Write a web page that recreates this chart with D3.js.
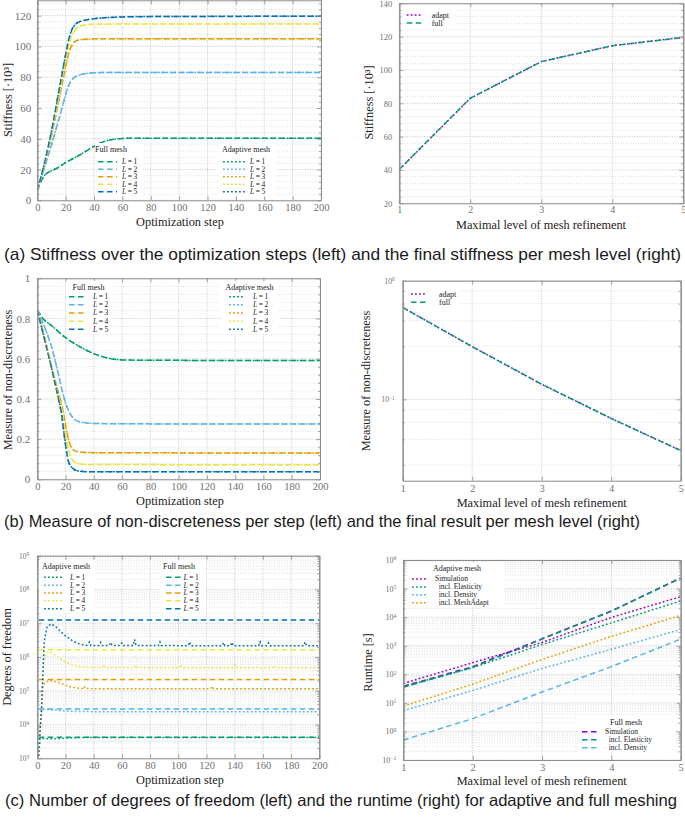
<!DOCTYPE html>
<html><head><meta charset="utf-8">
<script src="https://cdn.jsdelivr.net/npm/d3@7"></script>
<style>
body{margin:0;background:#fff}
svg text{font-family:"Liberation Serif","Times New Roman",serif}
</style></head><body>
<svg id="c" width="685" height="818"></svg>
<script>
// ---------------- DATA ----------------
const levelLabels = ["1","2","3","4","5"];
const meshLevels = [1,2,3,4,5];

// (a) stiffness [·10^3] over optimization steps: [step, value]
const stiffFull = [
  [[0,6.5],[3,13],[6,17],[9,18.7],[12,20],[16,22],[20,24.5],[25,27],[32,30.5],[38,34],[44,37],[50,39],[55,39.8],[63,40.3],[80,40.4],[200,40.4]],
  [[0,6.5],[5,21],[10,36],[15,52],[18,62],[20,69],[22,74.5],[25,79],[30,81.5],[35,82.5],[45,83],[200,83]],
  [[0,6.5],[5,23],[10,42],[15,64],[18,78],[20,87],[22,95],[24,100],[27,103.5],[32,104.6],[45,105],[200,105]],
  [[0,6.5],[5,23],[10,43],[15,67],[18,82],[20,92],[22,100],[24,106],[27,111],[31,113.5],[40,114.5],[200,114.6]],
  [[0,6.5],[5,24],[10,45],[15,70],[18,85],[20,95],[22,104],[24,110],[27,114.5],[31,116.5],[40,118],[55,119],[80,119.4],[200,119.6]]
];
const stiffAdapt = [
  [[0,6.5],[3,13.2],[6,17.2],[9,18.8],[12,20.1],[16,22.1],[20,24.6],[25,27.1],[32,30.6],[38,34.1],[44,37.1],[50,39],[55,39.8],[63,40.3],[80,40.3],[200,40.3]],
  [[0,6.5],[5,21],[10,36.2],[15,52.2],[18,62],[20,69],[22,74.5],[25,79],[30,81.5],[35,82.5],[45,83],[200,83]],
  [[0,6.5],[5,23],[10,42],[15,64],[18,78],[20,87],[22,95],[24,100],[27,103.5],[32,104.6],[45,105],[200,105]],
  [[0,6.5],[5,23],[10,43],[15,67],[18,82],[20,92],[22,100],[24,106],[27,111],[31,113.5],[40,114.5],[200,114.6]],
  [[0,6.5],[5,24],[10,45],[15,70],[18,85],[20,95],[22,104],[24,110],[27,114.5],[31,116.5],[40,118],[55,119],[80,119.5],[200,119.6]]
];
const finalStiffAdapt = [40.3, 83, 105, 114.6, 119.6];
const finalStiffFull  = [40.4, 83.1, 105, 114.5, 119.5];

// (b) measure of non-discreteness over steps
const ndFull = [
  [[0,0.842],[4,0.80],[10,0.765],[20,0.705],[30,0.66],[40,0.625],[50,0.603],[60,0.594],[80,0.592],[200,0.591]],
  [[0,0.842],[5,0.76],[10,0.66],[15,0.52],[18,0.43],[20,0.38],[23,0.33],[26,0.30],[30,0.286],[40,0.278],[60,0.276],[200,0.275]],
  [[0,0.842],[5,0.71],[10,0.565],[15,0.43],[17,0.38],[20,0.27],[22,0.20],[24,0.16],[27,0.14],[32,0.134],[45,0.132],[200,0.131]],
  [[0,0.842],[5,0.705],[10,0.56],[15,0.41],[17,0.36],[20,0.23],[22,0.15],[25,0.095],[28,0.08],[35,0.074],[200,0.072]],
  [[0,0.842],[5,0.70],[10,0.555],[15,0.40],[17,0.33],[20,0.17],[22,0.09],[25,0.055],[28,0.043],[35,0.038],[200,0.037]]
];
const ndAdapt = [
  [[0,0.842],[4,0.80],[10,0.765],[20,0.705],[30,0.66],[40,0.625],[50,0.603],[60,0.594],[80,0.592],[200,0.591]],
  [[0,0.842],[5,0.76],[10,0.66],[15,0.52],[18,0.43],[20,0.38],[23,0.33],[26,0.30],[30,0.286],[40,0.278],[60,0.276],[200,0.275]],
  [[0,0.842],[5,0.71],[10,0.565],[15,0.43],[17,0.38],[20,0.27],[22,0.20],[24,0.16],[27,0.14],[32,0.134],[45,0.132],[200,0.131]],
  [[0,0.842],[5,0.705],[10,0.56],[15,0.41],[17,0.36],[20,0.23],[22,0.15],[25,0.095],[28,0.08],[35,0.074],[200,0.072]],
  [[0,0.842],[5,0.70],[10,0.555],[15,0.40],[17,0.33],[20,0.17],[22,0.09],[25,0.055],[28,0.043],[35,0.038],[200,0.037]]
];
const finalNdAdapt = [0.595, 0.278, 0.134, 0.069, 0.037];
const finalNdFull  = [0.595, 0.278, 0.134, 0.069, 0.037];

// (c) degrees of freedom over steps
const dofFull = [4200, 29000, 215000, 1650000, 12500000];
const dofAdapt = [
  [[0,300],[1,1200],[2,3900],[6,3800],[15,3800],[22,4000],[30,4100],[200,4150]],
  [[0,300],[1,1500],[3,28000],[8,28000],[15,26000],[25,24500],[40,24000],[200,24000]],
  [[0,300],[1,1500],[3,25000],[4,150000],[7,190000],[11,200000],[16,170000],[22,135000],[28,120000],[32,117000],[33,135000],[34,116000],[50,115000],[123,115000],[124,135000],[125,115000],[200,115000]],
  [[0,300],[1,1500],[3,30000],[4,300000],[5,1000000],[8,1450000],[12,1200000],[16,900000],[20,700000],[25,580000],[30,520000],[40,490000],[46,490000],[47,600000],[48,490000],[69,485000],[70,580000],[71,485000],[101,480000],[102,600000],[103,480000],[139,480000],[140,580000],[141,480000],[167,480000],[168,560000],[169,480000],[200,480000]],
  [[0,300],[1,1500],[3,30000],[4,400000],[5,3000000],[7,8000000],[10,9500000],[13,8000000],[16,6000000],[20,4200000],[25,3000000],[30,2400000],[35,2200000],[37,2800000],[38,2200000],[44,2200000],[45,2700000],[46,2200000],[51,2200000],[52,2700000],[53,2200000],[59,2200000],[60,2600000],[61,2200000],[68,2200000],[69,3300000],[70,2200000],[86,2200000],[87,2800000],[88,2200000],[107,2150000],[108,2800000],[109,2150000],[131,2150000],[132,2700000],[133,2150000],[137,2150000],[138,2700000],[139,2150000],[157,2150000],[158,2800000],[159,2150000],[163,2150000],[164,2600000],[165,2150000],[189,2150000],[190,2800000],[191,2150000],[200,2150000]]
];

// (c) runtime [s] per mesh level
const rtAdaptSim   = [48, 255, 1300, 9800, 52000];
const rtAdaptElast = [37, 170, 1100, 6300, 37000];
const rtAdaptDens  = [5.3, 27, 160, 750, 3700];
const rtAdaptMesh  = [7.7, 45, 330, 2100, 11500];
const rtFullSim    = [38, 185, 1750, 16500, 235000];
const rtFullElast  = [35, 175, 1700, 16000, 230000];
const rtFullDens   = [0.5, 2.8, 24, 185, 1700];

const captions = [
  "(a) Stiffness over the optimization steps (left) and the final stiffness per mesh level (right)",
  "(b) Measure of non-discreteness per step (left) and the final result per mesh level (right)",
  "(c) Number of degrees of freedom (left) and the runtime (right) for adaptive and full meshing"
];

// ---------------- STYLE ----------------
const COL = {g:"#009E73", s:"#56B4E9", o:"#E69F00", y:"#F0E442", b:"#0072B2", p:"#9400D3"};
const levelColors = [COL.g, COL.s, COL.o, COL.y, COL.b];
const DASH = "5.5,3.5", DOT = "1.8,2.2";
const FRAME = "#8c8c8c", TICKTXT = "#707070", TITLE = "#222";
const svg = d3.select("#c");
let clipN = 0;

function range(a, b, s){ const r=[]; for(let v=a; v<=b+1e-9; v+=s) r.push(+v.toFixed(6)); return r; }
function logMinor(k0, k1){ const r=[]; for(let k=k0;k<k1;k++) for(let m=2;m<=9;m++) r.push(m*Math.pow(10,k)); return r; }

function panel(p){
  const x = d3.scaleLinear().domain(p.xd).range([p.L, p.R]);
  const y = (p.log ? d3.scaleLog() : d3.scaleLinear()).domain(p.yd).range([p.B, p.T]);
  const g = svg.append("g");
  g.append("g").selectAll("line").data(p.yMinor).join("line")
    .attr("x1", p.L).attr("x2", p.R).attr("y1", d=>y(d)).attr("y2", d=>y(d))
    .attr("stroke", "#d2d2d2").attr("stroke-width", 0.7).attr("stroke-dasharray", "1,1.6");
  g.append("g").selectAll("line").data(p.yTicks).join("line")
    .attr("x1", p.L).attr("x2", p.R).attr("y1", d=>y(d)).attr("y2", d=>y(d))
    .attr("stroke", "#b8b8b8").attr("stroke-width", 0.8).attr("stroke-dasharray", "1,1.5");
  g.append("g").selectAll("line").data(p.xTicks).join("line")
    .attr("y1", p.T).attr("y2", p.B).attr("x1", d=>x(d)).attr("x2", d=>x(d))
    .attr("stroke", "#b8b8b8").attr("stroke-width", 0.8).attr("stroke-dasharray", "1,1.5");
  const id = "clp" + (clipN++);
  svg.append("clipPath").attr("id", id).append("rect")
    .attr("x", p.L).attr("y", p.T).attr("width", p.R - p.L).attr("height", p.B - p.T);
  const lg = g.append("g").attr("clip-path", `url(#${id})`);
  p.series.forEach(s => {
    lg.append("path").datum(s.data)
      .attr("d", d3.line().x(d=>x(d[0])).y(d=>y(d[1])).curve(s.curve || d3.curveLinear))
      .attr("fill", "none").attr("stroke", s.color).attr("stroke-width", 1.5)
      .attr("stroke-dasharray", s.dash);
  });
  const styleAx = sel => {
    sel.selectAll(".domain").attr("stroke", FRAME).attr("stroke-width", 1);
    sel.selectAll(".tick line").attr("stroke", FRAME).attr("stroke-width", 0.8);
    sel.selectAll(".tick text").attr("fill", TICKTXT).attr("font-family", "Liberation Serif, serif");
  };
  const gb = g.append("g").attr("transform", `translate(0,${p.B})`)
    .call(d3.axisBottom(x).tickValues(p.xTicks).tickSizeInner(-4).tickSizeOuter(0).tickPadding(p.xPad).tickFormat(d3.format("d")));
  gb.selectAll(".tick text").attr("font-size", p.xFs);
  styleAx(gb);
  styleAx(g.append("g").attr("transform", `translate(0,${p.T})`)
    .call(d3.axisTop(x).tickValues(p.xTicks).tickSizeInner(-4).tickSizeOuter(0).tickFormat("")));
  const gl = g.append("g").attr("transform", `translate(${p.L},0)`)
    .call(d3.axisLeft(y).tickValues(p.yTicks).tickSizeInner(-4).tickSizeOuter(0).tickPadding(p.yPad)
      .tickFormat(p.log ? (()=> "10") : p.yFmt));
  gl.selectAll(".tick text").attr("font-size", p.yFs);
  if (p.log) {
    gl.selectAll(".tick text").append("tspan").attr("dy", "-0.45em").attr("font-size", "0.72em")
      .text(d => { const e = Math.round(Math.log10(d)); return e < 0 ? "\u2212" + (-e) : e; });
  }
  styleAx(gl);
  styleAx(g.append("g").attr("transform", `translate(${p.R},0)`)
    .call(d3.axisRight(y).tickValues(p.yTicks).tickSizeInner(-4).tickSizeOuter(0).tickFormat("")));
  styleAx(g.append("g").attr("transform", `translate(${p.L},0)`)
    .call(d3.axisLeft(y).tickValues(p.yMinor).tickSizeInner(-2).tickSizeOuter(0).tickFormat("")));
  styleAx(g.append("g").attr("transform", `translate(${p.R},0)`)
    .call(d3.axisRight(y).tickValues(p.yMinor).tickSizeInner(-2).tickSizeOuter(0).tickFormat("")));
  g.selectAll(".domain").raise();
  g.append("text").attr("x", p.xt[0]).attr("y", p.xt[1]).attr("text-anchor", "middle")
    .attr("font-size", 12.3).attr("fill", TITLE).text(p.xTitle);
  g.append("text").attr("transform", `translate(${p.yt[0]},${p.yt[1]}) rotate(-90)`).attr("text-anchor", "middle")
    .attr("font-size", 12.3).attr("fill", TITLE).text(p.yTitle);
  return {x, y, g};
}

function legend(g, o){
  if (o.bg) g.append("rect").attr("x", o.bg[0]).attr("y", o.bg[1]).attr("width", o.bg[2]).attr("height", o.bg[3]).attr("fill", "#fff");
  if (o.title) g.append("text").attr("x", o.tx).attr("y", o.ty).attr("text-anchor", "middle")
    .attr("font-size", o.fs + 0.5).attr("fill", TITLE).text(o.title);
  o.items.forEach((it, i) => {
    const yy = o.y0 + i * o.dy;
    g.append("line").attr("x1", o.sx0).attr("x2", o.sx1).attr("y1", yy).attr("y2", yy)
      .attr("stroke", it.color).attr("stroke-width", 1.5).attr("stroke-dasharray", it.dash);
    const t = g.append("text").attr("x", o.textX).attr("y", yy).attr("dy", "0.33em")
      .attr("font-size", o.fs).attr("fill", TITLE);
    if (it.level) {
      t.append("tspan").attr("font-style", "italic").text("L");
      t.append("tspan").text("\u2009=\u2009" + it.level);
    } else t.text(it.label);
  });
}

const sIt = (arr, dash) => arr.map((d, i) => ({data: d, color: levelColors[i], dash, curve: d3.curveMonotoneX}));
const lvl = (arr, vals) => arr.map((v, i) => [vals[i], v]);

// ---------- (a) left ----------
const aL = panel({L:37.3, R:321, T:0.3, B:200.3, xd:[0,200], yd:[0,130],
  xTicks: range(0,200,20), yTicks: range(0,120,20), yMinor: range(0,128,4).filter(v=>v%20!==0),
  xPad:3.5, yPad:6, xFs:10.5, yFs:11, yFmt:d3.format("d"),
  series: [...sIt(stiffFull, DASH), ...sIt(stiffAdapt, DOT)],
  xTitle:"Optimization step", xt:[180,226], yTitle:"Stiffness [\u00b710\u00b3]", yt:[12,100]});
legend(aL.g, {title:"Full mesh", tx:111, ty:151.5, sx0:98, sx1:117, textX:122, y0:161.7, dy:7.5, fs:7.5,
  bg:[95,143,48,53], items: levelLabels.map((l,i)=>({level:l, color:levelColors[i], dash:DASH}))});
legend(aL.g, {title:"Adaptive mesh", tx:246, ty:151.5, sx0:223, sx1:245, textX:250, y0:161.7, dy:7.5, fs:7.5,
  bg:[218,143,58,53], items: levelLabels.map((l,i)=>({level:l, color:levelColors[i], dash:DOT}))});

// ---------- (a) right ----------
const aR = panel({L:399.3, R:683.3, T:3.3, B:203.3, xd:[1,5], yd:[20,140],
  xTicks: meshLevels, yTicks: range(20,140,20), yMinor: range(20,140,4).filter(v=>v%20!==0),
  xPad:3, yPad:7, xFs:10, yFs:8.5, yFmt:d3.format("d"),
  series: [{data: lvl(finalStiffAdapt, meshLevels), color: COL.p, dash: DOT},
           {data: lvl(finalStiffFull, meshLevels), color: COL.g, dash: DASH}],
  xTitle:"Maximal level of mesh refinement", xt:[541,228.5], yTitle:"Stiffness [\u00b710\u00b3]", yt:[373,102.5]});
legend(aR.g, {sx0:406.7, sx1:421.7, textX:431.7, y0:15, dy:8, fs:8, bg:[403,9,52,20],
  items:[{label:"adapt", color:COL.p, dash:DOT},{label:"full", color:COL.g, dash:DASH}]});

// ---------- (b) left ----------
const bL = panel({L:37.3, R:320, T:278.3, B:479.3, xd:[0,200], yd:[0,1],
  xTicks: range(0,200,20), yTicks: range(0,1,0.2), yMinor: range(0,1,0.04).filter(v=>Math.abs(v*5-Math.round(v*5))>1e-6),
  xPad:3.5, yPad:7, xFs:10.5, yFs:11, yFmt:d => d===0||d===1 ? d3.format("d")(d) : d3.format(".1f")(d),
  series: [...sIt(ndFull, DASH), ...sIt(ndAdapt, DOT)],
  xTitle:"Optimization step", xt:[180,505], yTitle:"Measure of non-discreteness", yt:[12,380]});
legend(bL.g, {title:"Full mesh", tx:88.5, ty:289.5, sx0:69, sx1:86, textX:93, y0:296.7, dy:8.15, fs:7.5,
  bg:[66,281,46,53], items: levelLabels.map((l,i)=>({level:l, color:levelColors[i], dash:DASH}))});
legend(bL.g, {title:"Adaptive mesh", tx:249.5, ty:289.5, sx0:229, sx1:245, textX:253, y0:296.7, dy:8.15, fs:7.5,
  bg:[221,281,57,53], items: levelLabels.map((l,i)=>({level:l, color:levelColors[i], dash:DOT}))});

// ---------- (b) right ----------
const bR = panel({L:402.7, R:680.7, T:280.7, B:480.7, xd:[1,5], yd:[0.0206,1], log:true,
  xTicks: meshLevels, yTicks: [0.1, 1], yMinor: [0.82, 0.64, 0.46, 0.28, 0.082, 0.064, 0.046, 0.028],
  xPad:4, yPad:8, xFs:10, yFs:7.5,
  series: [{data: lvl(finalNdAdapt, meshLevels), color: COL.p, dash: DOT},
           {data: lvl(finalNdFull, meshLevels), color: COL.g, dash: DASH}],
  xTitle:"Maximal level of mesh refinement", xt:[541.7,506.5], yTitle:"Measure of non-discreteness", yt:[370,381]});
legend(bR.g, {sx0:411, sx1:426.7, textX:439, y0:294, dy:8.3, fs:8, bg:[407,288,52,20],
  items:[{label:"adapt", color:COL.p, dash:DOT},{label:"full", color:COL.g, dash:DASH}]});

// ---------- (c) left ----------
const dofFullSeries = dofFull.map((v,i)=>({data:[[1,v],[200,v]], color:levelColors[i], dash:DASH}));
const dofAdaptSeries = dofAdapt.map((d,i)=>({data:d, color:levelColors[i], dash:DOT}));
const cL = panel({L:37.3, R:319.3, T:555.7, B:758.3, xd:[0,200], yd:[1e3,1e9], log:true,
  xTicks: range(0,200,20), yTicks: [1e3,1e4,1e5,1e6,1e7,1e8,1e9], yMinor: logMinor(3,9),
  xPad:3.5, yPad:8, xFs:10.5, yFs:7.5,
  series: [...dofFullSeries, ...dofAdaptSeries],
  xTitle:"Optimization step", xt:[180,783.5], yTitle:"Degrees of freedom", yt:[11,657]});
legend(cL.g, {title:"Adaptive mesh", tx:66, ty:568.5, sx0:44, sx1:62, textX:70, y0:577.3, dy:7.85, fs:7.5,
  bg:[39,560,56,53], items: levelLabels.map((l,i)=>({level:l, color:levelColors[i], dash:DOT}))});
legend(cL.g, {title:"Full mesh", tx:179, ty:568.5, sx0:166, sx1:182, textX:183.5, y0:577.3, dy:7.85, fs:7.5,
  bg:[160,560,46,53], items: levelLabels.map((l,i)=>({level:l, color:levelColors[i], dash:DASH}))});

// ---------- (c) right ----------
const cR = panel({L:403.3, R:680.7, T:560, B:760, xd:[1,5], yd:[0.1,1e6], log:true,
  xTicks: meshLevels, yTicks: [0.1,1,10,100,1e3,1e4,1e5,1e6], yMinor: logMinor(-1,6),
  xPad:3.5, yPad:7, xFs:10.5, yFs:8,
  series: [
    {data: lvl(rtFullSim, meshLevels), color: COL.p, dash: DASH},
    {data: lvl(rtFullElast, meshLevels), color: COL.g, dash: DASH},
    {data: lvl(rtFullDens, meshLevels), color: COL.s, dash: DASH},
    {data: lvl(rtAdaptSim, meshLevels), color: COL.p, dash: DOT},
    {data: lvl(rtAdaptElast, meshLevels), color: COL.g, dash: DOT},
    {data: lvl(rtAdaptDens, meshLevels), color: COL.s, dash: DOT},
    {data: lvl(rtAdaptMesh, meshLevels), color: COL.o, dash: DOT}],
  xTitle:"Maximal level of mesh refinement", xt:[541.7,785], yTitle:"Runtime [s]", yt:[371.5,662.5]});
legend(cR.g, {title:"Adaptive mesh", tx:457, ty:570.5, sx0:412, sx1:427, textX:435, y0:579, dy:7.9, fs:7.5,
  bg:[408,562,96,45], items:[
    {label:"Simulation", color:COL.p, dash:DOT},
    {label:"\u2002incl. Elasticity", color:COL.g, dash:DOT},
    {label:"\u2002incl. Density", color:COL.s, dash:DOT},
    {label:"\u2002incl. MeshAdapt", color:COL.o, dash:DOT}]});
legend(cR.g, {title:"Full mesh", tx:626, ty:724.5, sx0:582, sx1:598, textX:605, y0:731.7, dy:8, fs:7.5,
  bg:[578,715,98,38], items:[
    {label:"Simulation", color:COL.p, dash:DASH},
    {label:"\u2002incl. Elasticity", color:COL.g, dash:DASH},
    {label:"\u2002incl. Density", color:COL.s, dash:DASH}]});

// ---------- captions ----------
const capY = [259.5, 527, 805.5];
const capX = [4, 4, 5];
const capLen = [677, 636, 672];
svg.selectAll(".cap").data(captions).join("text").attr("class","cap")
  .attr("x", (d,i)=>capX[i]).attr("y", (d,i)=>capY[i])
  .attr("font-size", (d,i)=> i===2 ? 16.5 : 17).attr("fill", "#1a1a1a")
  .attr("textLength", (d,i)=>capLen[i]).attr("lengthAdjust", "spacingAndGlyphs")
  .style("font-family", "'Liberation Sans', Arial, sans-serif")
  .text(d=>d);
</script>
</body></html>
